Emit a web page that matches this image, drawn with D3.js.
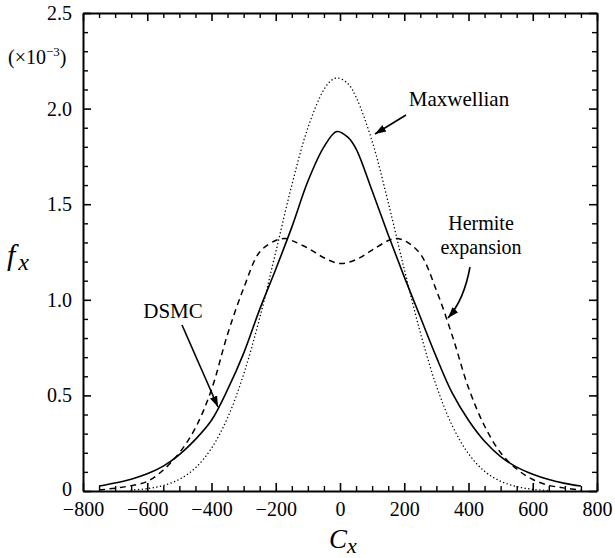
<!DOCTYPE html>
<html>
<head>
<meta charset="utf-8">
<script src="https://cdn.jsdelivr.net/npm/d3@7"></script>
<style>
  html, body { margin: 0; padding: 0; background: #fff; }
  svg, svg text { font-family: "Liberation Serif", "Times New Roman", Times, "DejaVu Serif", serif; }
</style>
</head>
<body>
<svg id="chart" width="615" height="558"></svg>
<script>
// ---- data ----
const xTicks = [-800, -600, -400, -200, 0, 200, 400, 600, 800];
const yTicks = [0, 0.5, 1.0, 1.5, 2.0, 2.5];

const maxwellCx = [-650, -600, -550, -500, -450, -400, -350, -300, -250, -200, -150, -100, -50, -25, -6, 25, 50, 100, 150, 200, 250, 300, 350, 400, 450, 500, 550, 600, 650];
const maxwellF  = [0.005, 0.0125, 0.029, 0.061, 0.121, 0.224, 0.383, 0.61, 0.905, 1.25, 1.60, 1.90, 2.10, 2.15, 2.16, 2.13, 2.06, 1.83, 1.51, 1.16, 0.83, 0.55, 0.34, 0.195, 0.103, 0.051, 0.023, 0.009, 0.003];

const dsmcCx = [-750, -700, -650, -600, -550, -500, -450, -400, -350, -300, -250, -200, -150, -100, -50, -10, 25, 50, 100, 150, 200, 250, 300, 350, 400, 450, 500, 550, 600, 650, 700, 750];
const dsmcF  = [0.026, 0.042, 0.062, 0.09, 0.13, 0.19, 0.27, 0.37, 0.53, 0.72, 0.95, 1.16, 1.38, 1.62, 1.80, 1.88, 1.85, 1.79, 1.57, 1.34, 1.12, 0.91, 0.70, 0.51, 0.37, 0.26, 0.18, 0.125, 0.088, 0.06, 0.04, 0.026];

const hermCx = [-750, -700, -650, -600, -550, -500, -450, -400, -350, -300, -250, -200, -170, -150, -100, -50, 0, 50, 100, 150, 170, 200, 250, 300, 350, 400, 450, 500, 550, 600, 650, 700, 750];
const hermF  = [0.005, 0.015, 0.028, 0.05, 0.11, 0.2, 0.33, 0.53, 0.82, 1.06, 1.25, 1.31, 1.32, 1.31, 1.27, 1.22, 1.19, 1.21, 1.26, 1.31, 1.32, 1.31, 1.24, 1.05, 0.81, 0.54, 0.34, 0.2, 0.115, 0.06, 0.03, 0.015, 0.005];

// ---- layout ----
const FONT = '"Liberation Serif", "Times New Roman", Times, "DejaVu Serif", serif';
const svg = d3.select("#chart").attr("font-family", FONT);
const L = 83, R = 597, T = 13, B = 491;
const x = d3.scaleLinear().domain([-800, 800]).range([L, R]);
const y = d3.scaleLinear().domain([0, 2.5]).range([B, T]);

const defs = svg.append("defs");
defs.append("marker").attr("id", "ah").attr("viewBox", "0 0 10 10")
  .attr("refX", 10).attr("refY", 5).attr("markerWidth", 11).attr("markerHeight", 11)
  .attr("markerUnits", "userSpaceOnUse").attr("orient", "auto")
  .append("path").attr("d", "M0,1.5 L10,5 L0,8.5 Z").attr("fill", "#000");

// ---- axes ----
const fmtY = d => d === 0 ? "0" : d.toFixed(1);
const xMinor = d3.range(-800, 801, 50).filter(v => v % 200 !== 0);
const yMinor = d3.range(0, 26, 1).map(v => v / 10).filter(v => Math.round(v * 10) % 5 !== 0);

function styleAxis(g) {
  g.attr("font-family", FONT);
  g.select(".domain").attr("stroke", "#000").attr("stroke-width", 2);
  g.selectAll(".tick line").attr("stroke", "#000").attr("stroke-width", 1.6);
  g.selectAll(".tick text").attr("fill", "#000").attr("font-size", 20).attr("font-family", FONT);
}
const minorStyle = g => { g.select(".domain").remove(); g.selectAll("line").attr("stroke", "#000").attr("stroke-width", 1.4); };

// bottom
const gB = svg.append("g").attr("transform", `translate(0,${B})`)
  .call(d3.axisBottom(x).tickValues(xTicks).tickSizeInner(-8).tickSizeOuter(0));
styleAxis(gB);
gB.selectAll(".tick text").attr("dy", "0.71em").attr("y", 11);
svg.append("g").attr("transform", `translate(0,${B})`)
  .call(d3.axisBottom(x).tickValues(xMinor).tickSize(-5).tickFormat("")).call(minorStyle);

// top
const gT = svg.append("g").attr("transform", `translate(0,${T})`)
  .call(d3.axisTop(x).tickValues(xTicks).tickSizeInner(-8).tickSizeOuter(0).tickFormat(""));
styleAxis(gT);
svg.append("g").attr("transform", `translate(0,${T})`)
  .call(d3.axisTop(x).tickValues(xMinor).tickSize(-5).tickFormat("")).call(minorStyle);

// left
const gL = svg.append("g").attr("transform", `translate(${L},0)`)
  .call(d3.axisLeft(y).tickValues(yTicks).tickFormat(fmtY).tickSizeInner(-8).tickSizeOuter(0));
styleAxis(gL);
gL.selectAll(".tick text").attr("x", -11);
gL.selectAll(".tick text").filter(d => d === 0).attr("dy", "0.2em");
svg.append("g").attr("transform", `translate(${L},0)`)
  .call(d3.axisLeft(y).tickValues(yMinor).tickSize(-5).tickFormat("")).call(minorStyle);

// right
const gR = svg.append("g").attr("transform", `translate(${R},0)`)
  .call(d3.axisRight(y).tickValues(yTicks).tickSizeInner(-8).tickSizeOuter(0).tickFormat(""));
styleAxis(gR);
svg.append("g").attr("transform", `translate(${R},0)`)
  .call(d3.axisRight(y).tickValues(yMinor).tickSize(-5).tickFormat("")).call(minorStyle);

// ---- curves ----
const line = d3.line().x(d => x(d[0])).y(d => y(d[1])).curve(d3.curveCatmullRom.alpha(0.5));
const zip = (a, b) => a.map((v, i) => [v, b[i]]);

svg.append("path").datum(zip(maxwellCx, maxwellF)).attr("d", line)
  .attr("fill", "none").attr("stroke", "#000").attr("stroke-width", 1.4)
  .attr("stroke-dasharray", "0.1,3.6").attr("stroke-linecap", "round");
svg.append("path").datum(zip(hermCx, hermF)).attr("d", line)
  .attr("fill", "none").attr("stroke", "#000").attr("stroke-width", 1.5)
  .attr("stroke-dasharray", "6,4.5");
svg.append("path").datum(zip(dsmcCx, dsmcF)).attr("d", line)
  .attr("fill", "none").attr("stroke", "#000").attr("stroke-width", 1.6);

// ---- annotations ----
const ann = svg.append("g").attr("font-family", FONT).attr("fill", "#000").attr("font-size", 20);
ann.append("text").attr("x", 459).attr("y", 106).attr("text-anchor", "middle").attr("font-size", 21).text("Maxwellian");
ann.append("text").attr("x", 173).attr("y", 318).attr("text-anchor", "middle").attr("font-size", 21).text("DSMC");
ann.append("text").attr("x", 481).attr("y", 230).attr("text-anchor", "middle").text("Hermite");
ann.append("text").attr("x", 481).attr("y", 254).attr("text-anchor", "middle").text("expansion");

svg.append("path").attr("d", "M406,115 L375,134").attr("stroke", "#000").attr("stroke-width", 1.6).attr("fill", "none").attr("marker-end", "url(#ah)");
svg.append("path").attr("d", "M182,325 L218,407").attr("stroke", "#000").attr("stroke-width", 1.6).attr("fill", "none").attr("marker-end", "url(#ah)");
svg.append("path").attr("d", "M470,267 Q464,300 448,318").attr("stroke", "#000").attr("stroke-width", 1.6).attr("fill", "none").attr("marker-end", "url(#ah)");

// y multiplier
const mult = svg.append("text").attr("x", 8).attr("y", 64).attr("font-size", 20).attr("font-family", FONT);
mult.append("tspan").text("(\u00d710");
mult.append("tspan").attr("dy", -8).attr("font-size", 13).text("\u22123");
mult.append("tspan").attr("dy", 8).text(")");

// axis titles
const fy = svg.append("text").attr("x", 7).attr("y", 265).attr("font-family", FONT).attr("font-style", "italic");
fy.append("tspan").attr("font-size", 30).text("f");
fy.append("tspan").attr("dy", 5).attr("dx", 3).attr("font-size", 24).text("x");

const cx = svg.append("text").attr("x", 329).attr("y", 548).attr("font-family", FONT).attr("font-style", "italic");
cx.append("tspan").attr("font-size", 27).text("C");
cx.append("tspan").attr("dy", 5).attr("font-size", 22).text("x");
</script>
</body>
</html>
